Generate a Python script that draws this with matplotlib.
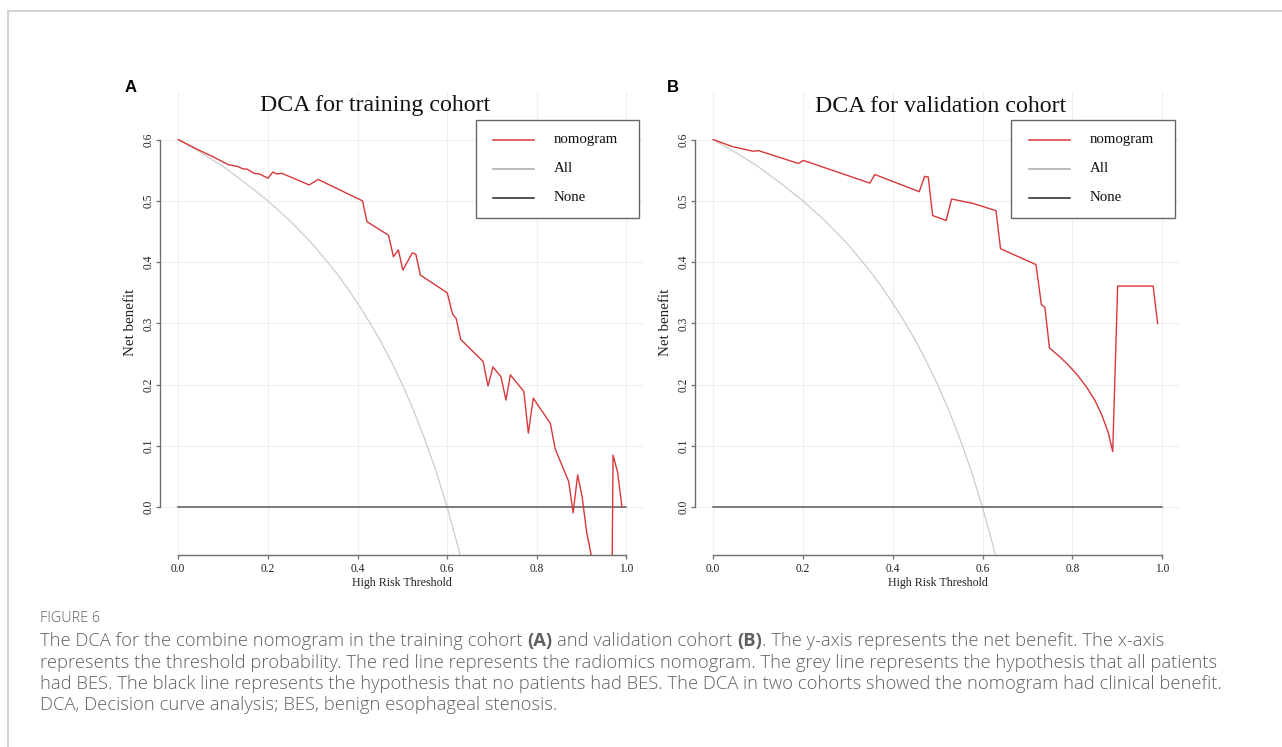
import matplotlib
matplotlib.use("Agg")
import matplotlib.pyplot as plt
from matplotlib.lines import Line2D
from matplotlib.patches import Rectangle

# ---------------- data ----------------
x_ticks = [0.0, 0.2, 0.4, 0.6, 0.8, 1.0]
x_tick_labels = ["0.0", "0.2", "0.4", "0.6", "0.8", "1.0"]
y_ticks = [0.0, 0.1, 0.2, 0.3, 0.4, 0.5, 0.6]
y_tick_labels = ["0.0", "0.1", "0.2", "0.3", "0.4", "0.5", "0.6"]

titles = ["DCA for training cohort", "DCA for validation cohort"]
panel_letters = ["A", "B"]
legend_labels = ["nomogram", "All", "None"]
x_label = "High Risk Threshold"
y_label = "Net benefit"

train_thr = [0.000, 0.040, 0.080, 0.112, 0.133, 0.145, 0.153, 0.169, 0.181, 0.200,
             0.211, 0.219, 0.231, 0.292, 0.312, 0.411, 0.421, 0.469, 0.480, 0.491,
             0.501, 0.522, 0.530, 0.540, 0.600, 0.612, 0.620, 0.630, 0.680, 0.691,
             0.702, 0.720, 0.731, 0.741, 0.771, 0.781, 0.792, 0.830, 0.841, 0.871,
             0.881, 0.891, 0.901, 0.911, 0.930, 0.965, 0.970, 0.980, 0.990]
train_nb = [0.600, 0.585, 0.571, 0.559, 0.556, 0.552, 0.552, 0.545, 0.544, 0.537,
            0.547, 0.544, 0.545, 0.526, 0.535, 0.500, 0.466, 0.444, 0.409, 0.420,
            0.387, 0.415, 0.413, 0.379, 0.350, 0.315, 0.308, 0.274, 0.238, 0.198,
            0.229, 0.213, 0.175, 0.216, 0.189, 0.121, 0.178, 0.137, 0.095, 0.042,
            -0.009, 0.053, 0.017, -0.040, -0.110, -0.350, 0.085, 0.058, 0.000]

valid_thr = [0.000, 0.045, 0.053, 0.089, 0.101, 0.190, 0.201, 0.349, 0.360, 0.459,
             0.471, 0.479, 0.489, 0.519, 0.531, 0.578, 0.630, 0.640, 0.719, 0.731,
             0.739, 0.749, 0.770, 0.790, 0.810, 0.830, 0.850, 0.865, 0.880, 0.890,
             0.901, 0.980, 0.990]
valid_nb = [0.600, 0.588, 0.587, 0.581, 0.582, 0.561, 0.566, 0.529, 0.543, 0.515,
            0.540, 0.539, 0.476, 0.468, 0.503, 0.496, 0.484, 0.422, 0.396, 0.331,
            0.326, 0.260, 0.247, 0.233, 0.217, 0.198, 0.175, 0.152, 0.122, 0.091,
            0.361, 0.361, 0.300]

all_thr = [0.000, 0.050, 0.100, 0.150, 0.200, 0.250, 0.300, 0.325, 0.350, 0.375,
           0.400, 0.425, 0.450, 0.475, 0.500, 0.525, 0.550, 0.575, 0.600, 0.625, 0.650]
all_nb = [0.600, 0.579, 0.556, 0.529, 0.500, 0.467, 0.429, 0.407, 0.385, 0.360,
          0.333, 0.304, 0.273, 0.238, 0.200, 0.158, 0.111, 0.059, 0.000, -0.067, -0.143]

none_thr = [0.0, 1.0]
none_nb = [0.0, 0.0]

caption_head = "FIGURE 6"
caption_lines = [
    [("The DCA for the combine nomogram in the training cohort ", False), ("(A)", True),
     (" and validation cohort ", False), ("(B)", True),
     (". The y-axis represents the net benefit. The x-axis", False)],
    [("represents the threshold probability. The red line represents the radiomics nomogram. "
      "The grey line represents the hypothesis that all patients", False)],
    [("had BES. The black line represents the hypothesis that no patients had BES. "
      "The DCA in two cohorts showed the nomogram had clinical benefit.", False)],
    [("DCA, Decision curve analysis; BES, benign esophageal stenosis.", False)],
]

# ---------------- layout ----------------
W, H, DPI = 1282, 747, 100
fig = plt.figure(figsize=(W / DPI, H / DPI), dpi=DPI)
fig.patch.set_facecolor("white")


def fx(px):
    return px / W


def fy(py):
    return 1 - py / H


SERIF = "Liberation Serif"
RED = "#d8373a"
XL, XR = -0.04, 1.04
YB, YT = -0.078, 0.678
Y0PX, Y06PX = 507.3, 139.6
YS = (Y0PX - Y06PX) / 0.6

panels = [
    dict(x0=178.3, x1=626.5, letter_x=125, title_cx=375, leg=(475.7, 120, 639.3, 218),
         thr=train_thr, nb=train_nb),
    dict(x0=713.2, x1=1162.1, letter_x=667, title_cx=941, leg=(1011.4, 120, 1174.6, 218),
         thr=valid_thr, nb=valid_nb),
]

for i, p in enumerate(panels):
    xs = p["x1"] - p["x0"]
    left = p["x0"] + XL * xs
    right = p["x0"] + XR * xs
    top = Y0PX - YT * YS
    bottom = Y0PX - YB * YS
    ax = fig.add_axes([fx(left), fy(bottom), (right - left) / W, (bottom - top) / H])
    ax.set_xlim(XL, XR)
    ax.set_ylim(YB, YT)
    ax.set_facecolor("white")
    ax.grid(True, color="#efefef", lw=0.8)
    ax.set_axisbelow(True)

    ax.plot(all_thr, all_nb, color="#cccccc", lw=0.9, zorder=2)
    ax.plot(p["thr"], p["nb"], color=RED, lw=1.0, zorder=3)
    ax.plot(none_thr, none_nb, color="#5a5a5a", lw=1.1, zorder=2)

    for s in ["top", "right"]:
        ax.spines[s].set_visible(False)
    ax.spines["left"].set_bounds(0.0, 0.6)
    ax.spines["bottom"].set_bounds(0.0, 1.0)
    for s in ["left", "bottom"]:
        ax.spines[s].set_color("#6e6e6e")
        ax.spines[s].set_linewidth(1.0)

    ax.set_xticks(x_ticks)
    ax.set_xticklabels(x_tick_labels, fontfamily=SERIF, fontsize=8.3, color="#222222")
    ax.set_yticks(y_ticks)
    ax.set_yticklabels(y_tick_labels, fontfamily=SERIF, fontsize=8.3, color="#222222",
                       rotation=90, va="center")
    ax.tick_params(axis="both", direction="out", length=3.2, width=0.9, color="#6e6e6e")
    ax.tick_params(axis="x", pad=2.2)
    ax.tick_params(axis="y", pad=1.0)

    # labels and title
    fig.text(fx(p["x0"] + 0.5 * xs), fy(583), x_label, ha="center", va="center",
             fontsize=8.6, family=SERIF, color="#222222")
    fig.text(fx(left - 29.5), fy((top + bottom) / 2 - 1), y_label, ha="center", va="center",
             rotation=90, fontsize=10.8, family=SERIF, color="#222222")
    fig.text(fx(p["title_cx"]), fy(111.5), titles[i], ha="center", va="baseline",
             fontsize=17.2, family=SERIF, color="#111111")
    fig.text(fx(p["letter_x"]), fy(92), panel_letters[i], ha="left", va="baseline",
             fontsize=12, fontweight="bold", family="Liberation Sans", color="#000000")

    # legend
    l, t, r, b = p["leg"]
    fig.add_artist(Rectangle((fx(l), fy(b)), (r - l) / W, (b - t) / H,
                             transform=fig.transFigure, facecolor="white",
                             edgecolor="#666666", lw=1.0, zorder=5))
    leg_colors = [RED, "#a8a8a8", "#222222"]
    for k, (lab, c) in enumerate(zip(legend_labels, leg_colors)):
        yy = 140 + k * 28.8
        fig.add_artist(Line2D([fx(l + 17.3), fx(l + 58.3)], [fy(yy), fy(yy)],
                              transform=fig.transFigure, color=c, lw=1.1, zorder=6))
        fig.text(fx(l + 78), fy(yy), lab, ha="left", va="center", fontsize=10.7,
                 family=SERIF, color="#111111", zorder=6)

# frame of the figure page
fig.add_artist(Line2D([fx(8), fx(W)], [fy(10.5), fy(10.5)], transform=fig.transFigure,
                      color="#d4d4d4", lw=1.5))
fig.add_artist(Line2D([fx(8), fx(8)], [fy(10.5), fy(H)], transform=fig.transFigure,
                      color="#d4d4d4", lw=1.5))

# caption
CAP_FONT = "Open Sans"
CAP_COLOR = "#606060"
CAP_WEIGHT = 300
renderer = fig.canvas.get_renderer()


def adv(s, size, bold):
    w = "bold" if bold else CAP_WEIGHT
    t1 = fig.text(0, 0, "|" + s + "|", fontsize=size, family=CAP_FONT, fontweight=w)
    t2 = fig.text(0, 0, "||", fontsize=size, family=CAP_FONT, fontweight=w)
    d = t1.get_window_extent(renderer).width - t2.get_window_extent(renderer).width
    t1.remove()
    t2.remove()
    return d


ref = sum(adv(s, 10, b) for s, b in caption_lines[0])
cap_size = 10 * 1120.0 / ref

fig.text(fx(40), fy(618), caption_head, ha="left", va="center", fontsize=cap_size * 0.78,
         family=CAP_FONT, color=CAP_COLOR, fontweight=CAP_WEIGHT)
line_y = [641, 663, 684, 705]
for yy, pieces in zip(line_y, caption_lines):
    x = 40.0
    for s, b in pieces:
        lead = len(s) - len(s.lstrip(" "))
        xoff = adv(" " * lead, cap_size, b) if lead else 0.0
        fig.text(fx(x + xoff), fy(yy), s.lstrip(" "), ha="left", va="center",
                 fontsize=cap_size, family=CAP_FONT, color=CAP_COLOR,
                 fontweight="bold" if b else CAP_WEIGHT)
        x += adv(s, cap_size, b)

fig.savefig("out.png", dpi=DPI, facecolor="white")
